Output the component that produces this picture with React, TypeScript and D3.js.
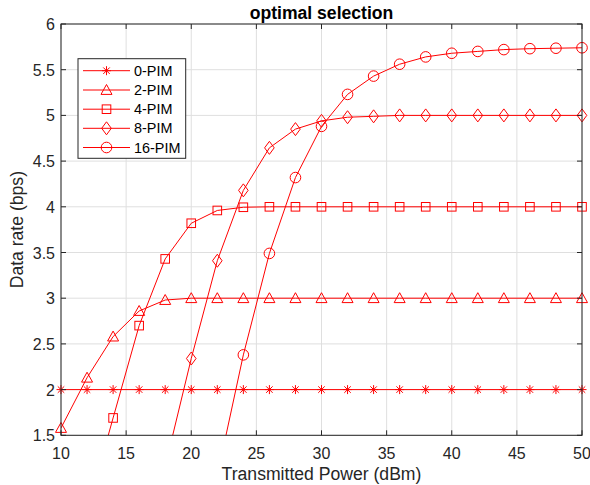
import React from "react";
import * as d3 from "d3";

const xValues = [10, 12, 14, 16, 18, 20, 22, 24, 26, 28, 30, 32, 34, 36, 38, 40, 42, 44, 46, 48, 50];
const pim0 = [2, 2, 2, 2, 2, 2, 2, 2, 2, 2, 2, 2, 2, 2, 2, 2, 2, 2, 2, 2, 2];
const pim2 = [1.58, 2.13, 2.58, 2.86, 2.98, 3.0, 3, 3, 3, 3, 3, 3, 3, 3, 3, 3, 3, 3, 3, 3, 3];
const pim4 = [null, 0.67, 1.69, 2.7, 3.43, 3.82, 3.96, 3.995, 4, 4, 4, 4, 4, 4, 4, 4, 4, 4, 4, 4, 4];
const pim8 = [null, null, null, null, 1.16, 2.34, 3.41, 4.18, 4.645, 4.85, 4.94, 4.98, 4.99, 5, 5, 5, 5, 5, 5, 5, 5];
const pim16 = [null, null, null, null, null, null, 1.06, 2.38, 3.49, 4.32, 4.88, 5.23, 5.43, 5.56, 5.64, 5.68, 5.70, 5.72, 5.73, 5.735, 5.74];
const seriesNames = ["0-PIM", "2-PIM", "4-PIM", "8-PIM", "16-PIM"];
const seriesMarkers = ["star", "triangle", "square", "diamond", "circle"];
const xTicks = [10, 15, 20, 25, 30, 35, 40, 45, 50];
const yTicks = [1.5, 2, 2.5, 3, 3.5, 4, 4.5, 5, 5.5, 6];

const RED = "#ff0000";
const FONT = "'Liberation Sans', Arial, Helvetica, sans-serif";

function Marker({ type, x, y }: { type: string; x: number; y: number }) {
  const common = { fill: "none", stroke: RED, strokeWidth: 1 };
  if (type === "star") {
    const r = 4.5;
    const d = r * 0.72;
    return (
      <g {...common}>
        <line x1={x - r} y1={y} x2={x + r} y2={y} />
        <line x1={x} y1={y - r} x2={x} y2={y + r} />
        <line x1={x - d} y1={y - d} x2={x + d} y2={y + d} />
        <line x1={x - d} y1={y + d} x2={x + d} y2={y - d} />
      </g>
    );
  }
  if (type === "triangle") {
    const s = 5.5;
    return <polygon {...common} points={`${x},${y - s} ${x - s},${y + s * 0.8} ${x + s},${y + s * 0.8}`} />;
  }
  if (type === "square") {
    const s = 4.3;
    return <rect {...common} x={x - s} y={y - s} width={2 * s} height={2 * s} />;
  }
  if (type === "diamond") {
    const w = 4.8, h = 6.5;
    return <polygon {...common} points={`${x},${y - h} ${x + w},${y} ${x},${y + h} ${x - w},${y}`} />;
  }
  return <circle {...common} cx={x} cy={y} r={5.3} />;
}

export default function App() {
  const W = 590, H = 485;
  const left = 61, right = 582, top = 24, bottom = 435.3;
  const x = d3.scaleLinear().domain([10, 50]).range([left, right]);
  const y = d3.scaleLinear().domain([1.5, 6]).range([bottom, top]);
  const allSeries = [pim0, pim2, pim4, pim8, pim16];

  const line = d3
    .line<[number, number | null]>()
    .defined((d) => d[1] !== null)
    .x((d) => x(d[0]))
    .y((d) => y(d[1] as number));

  const legX = 78, legY = 58.7, legW = 107.7, legH = 99.6;
  const legRows = [70.7, 90, 109.2, 128.3, 147.5];

  return (
    <svg width={W} height={H} style={{ position: "absolute", left: 0, top: 0, background: "#fff" }}>
      <defs>
        <clipPath id="plotclip">
          <rect x={left} y={top} width={right - left} height={bottom - top} />
        </clipPath>
      </defs>
      <rect x={0} y={0} width={W} height={H} fill="#fff" />
      {/* grid */}
      {xTicks.map((t) => (
        <line key={"gx" + t} x1={x(t)} x2={x(t)} y1={top} y2={bottom} stroke="#dfdfdf" strokeWidth={1} />
      ))}
      {yTicks.map((t) => (
        <line key={"gy" + t} x1={left} x2={right} y1={y(t)} y2={y(t)} stroke="#dfdfdf" strokeWidth={1} />
      ))}
      {/* series */}
      <g clipPath="url(#plotclip)">
        {allSeries.map((s, i) => {
          const pts = xValues.map((xv, j) => [xv, s[j]] as [number, number | null]);
          return (
            <g key={"s" + i}>
              <path d={line(pts) || ""} fill="none" stroke={RED} strokeWidth={1} />
            </g>
          );
        })}
      </g>
      {allSeries.map((s, i) => (
        <g key={"m" + i}>
          {xValues.map((xv, j) => {
            const v = s[j];
            if (v === null || v < 1.5 || v > 6) return null;
            return <Marker key={j} type={seriesMarkers[i]} x={x(xv)} y={y(v)} />;
          })}
        </g>
      ))}
      {/* axes box */}
      <rect x={left} y={top} width={right - left} height={bottom - top} fill="none" stroke="#262626" strokeWidth={1} />
      {xTicks.map((t) => (
        <g key={"tx" + t}>
          <line x1={x(t)} x2={x(t)} y1={bottom} y2={bottom - 5} stroke="#262626" />
          <line x1={x(t)} x2={x(t)} y1={top} y2={top + 5} stroke="#262626" />
          <text x={x(t)} y={bottom + 23.5} textAnchor="middle" fontFamily={FONT} fontSize={16} fill="#262626">
            {t}
          </text>
        </g>
      ))}
      {yTicks.map((t) => (
        <g key={"ty" + t}>
          <line x1={left} x2={left + 5} y1={y(t)} y2={y(t)} stroke="#262626" />
          <line x1={right} x2={right - 5} y1={y(t)} y2={y(t)} stroke="#262626" />
          <text x={left - 6} y={y(t) + 6} textAnchor="end" fontFamily={FONT} fontSize={16} fill="#262626">
            {t}
          </text>
        </g>
      ))}
      {/* labels */}
      <text x={(left + right) / 2} y={18.5} textAnchor="middle" fontFamily={FONT} fontSize={17.6} fontWeight="bold" fill="#000">
        optimal selection
      </text>
      <text x={(left + right) / 2} y={480} textAnchor="middle" fontFamily={FONT} fontSize={17.6} fill="#262626">
        Transmitted Power (dBm)
      </text>
      <text
        transform={`translate(22.6, ${(top + bottom) / 2}) rotate(-90)`}
        textAnchor="middle"
        fontFamily={FONT}
        fontSize={17.6}
        fill="#262626"
      >
        Data rate (bps)
      </text>
      {/* legend */}
      <rect x={legX} y={legY} width={legW} height={legH} fill="#fff" stroke="#262626" strokeWidth={1} />
      {seriesNames.map((name, i) => (
        <g key={"l" + i}>
          <line x1={83} x2={130} y1={legRows[i]} y2={legRows[i]} stroke={RED} strokeWidth={1} />
          <Marker type={seriesMarkers[i]} x={106.5} y={legRows[i]} />
          <text x={134} y={legRows[i] + 5} fontFamily={FONT} fontSize={14.4} fill="#000">
            {name}
          </text>
        </g>
      ))}
    </svg>
  );
}
